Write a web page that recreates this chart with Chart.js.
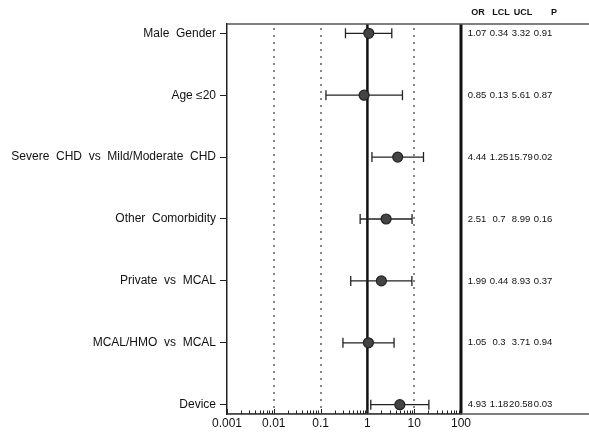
<!DOCTYPE html>
<html>
<head>
<meta charset="utf-8">
<script src="https://cdn.jsdelivr.net/npm/chart.js@4/dist/chart.umd.min.js"></script>
<style>
  body { margin: 0; background: #fff; }
  #wrap { width: 589px; height: 439px; position: relative; }
</style>
</head>
<body>
<div id="wrap"><canvas id="forest"></canvas></div>
<script>
const labels = ['Male  Gender', 'Age \u226420', 'Severe  CHD  vs  Mild/Moderate  CHD', 'Other  Comorbidity', 'Private  vs  MCAL', 'MCAL/HMO  vs  MCAL', 'Device'];
const orValues = [1.07, 0.85, 4.44, 2.51, 1.99, 1.05, 4.93];
const lclValues = [0.34, 0.13, 1.25, 0.7, 0.44, 0.3, 1.18];
const uclValues = [3.32, 5.61, 15.79, 8.99, 8.93, 3.71, 20.58];
const pValues = ['0.91', '0.87', '0.02', '0.16', '0.37', '0.94', '0.03'];
const orText = ['1.07', '0.85', '4.44', '2.51', '1.99', '1.05', '4.93'];
const lclText = ['0.34', '0.13', '1.25', '0.7', '0.44', '0.3', '1.18'];
const uclText = ['3.32', '5.61', '15.79', '8.99', '8.93', '3.71', '20.58'];
const xTicks = [0.001, 0.01, 0.1, 1, 10, 100];
const tableHeader = ['OR', 'LCL', 'UCL', 'P'];

const textColor = '#111';
const fontFamily = '"Liberation Sans", Arial, sans-serif';

const forestPlugin = {
    id: 'forest',
    beforeDatasetsDraw(chart) {
        const ctx = chart.ctx;
        const x = chart.scales.x;
        const y = chart.scales.y;
        const area = chart.chartArea;
        ctx.save();
        // dotted reference lines
        ctx.strokeStyle = '#888';
        ctx.lineWidth = 2;
        ctx.setLineDash([2, 5]);
        [0.01, 0.1, 10].forEach(v => {
            const px = Math.round(x.getPixelForValue(v));
            ctx.beginPath();
            ctx.moveTo(px, area.top + 4);
            ctx.lineTo(px, area.bottom);
            ctx.stroke();
        });
        ctx.setLineDash([]);
        // solid line at 1
        ctx.strokeStyle = '#111';
        ctx.lineWidth = 2.5;
        let px = x.getPixelForValue(1);
        ctx.beginPath();
        ctx.moveTo(px, area.top);
        ctx.lineTo(px, area.bottom);
        ctx.stroke();
        // thick right border at 100
        ctx.lineWidth = 3;
        px = x.getPixelForValue(100);
        ctx.beginPath();
        ctx.moveTo(px, area.top);
        ctx.lineTo(px, area.bottom);
        ctx.stroke();
        // top and bottom rules across the table
        ctx.strokeStyle = '#555';
        ctx.lineWidth = 1.5;
        ctx.beginPath();
        ctx.moveTo(area.left, area.top);
        ctx.lineTo(chart.width, area.top);
        ctx.moveTo(area.left, area.bottom);
        ctx.lineTo(chart.width, area.bottom);
        ctx.stroke();
        // ticks on x axis, pointing up into the plot
        ctx.strokeStyle = '#222';
        ctx.lineWidth = 1;
        for (let d = 0.001; d < 100; d *= 10) {
            for (let k = 1; k <= 9; k++) {
                const mx = Math.round(x.getPixelForValue(d * k)) + 0.5;
                ctx.beginPath();
                ctx.moveTo(mx, area.bottom);
                ctx.lineTo(mx, area.bottom - (k === 1 ? 5 : 3.5));
                ctx.stroke();
            }
        }
        // error bars
        ctx.strokeStyle = '#222';
        ctx.lineWidth = 1.3;
        orValues.forEach((v, i) => {
            const py = y.getPixelForValue(i);
            const x1 = x.getPixelForValue(lclValues[i]);
            const x2 = x.getPixelForValue(uclValues[i]);
            ctx.beginPath();
            ctx.moveTo(x1, py);
            ctx.lineTo(x2, py);
            ctx.moveTo(x1, py - 5);
            ctx.lineTo(x1, py + 5);
            ctx.moveTo(x2, py - 5);
            ctx.lineTo(x2, py + 5);
            ctx.stroke();
        });
        ctx.restore();
    },
    afterDraw(chart) {
        const ctx = chart.ctx;
        const y = chart.scales.y;
        const area = chart.chartArea;
        const cols = [477, 499, 521, 543];
        ctx.save();
        ctx.fillStyle = textColor;
        ctx.textAlign = 'center';
        ctx.textBaseline = 'middle';
        ctx.font = 'bold 9px ' + fontFamily;
        const hdrCols = [478, 501, 523, 554];
        tableHeader.forEach((h, j) => ctx.fillText(h, hdrCols[j], area.top - 11));
        ctx.font = '9.5px ' + fontFamily;
        orValues.forEach((v, i) => {
            const py = y.getPixelForValue(i);
            ctx.fillText(orText[i], cols[0], py);
            ctx.fillText(lclText[i], cols[1], py);
            ctx.fillText(uclText[i], cols[2], py);
            ctx.fillText(pValues[i], cols[3], py);
        });
        ctx.restore();
    }
};

new Chart(document.getElementById('forest'), {
    type: 'scatter',
    data: {
        datasets: [{
            data: orValues.map((v, i) => ({ x: v, y: i })),
            pointStyle: 'circle',
            pointRadius: 5,
            pointBackgroundColor: '#444',
            pointBorderColor: '#222',
            pointBorderWidth: 1.2
        }]
    },
    options: {
        responsive: true,
        maintainAspectRatio: false,
        animation: false,
        layout: { padding: { top: 24, right: 128, bottom: 0, left: 0 } },
        plugins: {
            legend: { display: false },
            tooltip: { enabled: false }
        },
        scales: {
            x: {
                type: 'logarithmic',
                min: 0.001,
                max: 100,
                afterBuildTicks: scale => { scale.ticks = xTicks.map(v => ({ value: v })); },
                afterFit: scale => { scale.height = 25; },
                ticks: {
                    color: textColor,
                    font: { family: fontFamily, size: 12 },
                    padding: 1,
                    maxRotation: 0,
                    autoSkip: false,
                    callback: v => String(v)
                },
                grid: { drawOnChartArea: false, drawTicks: true, tickLength: 1, color: '#222' },
                border: { color: '#222', width: 1.5 }
            },
            y: {
                type: 'linear',
                reverse: true,
                min: -0.15,
                max: 6.15,
                afterBuildTicks: scale => { scale.ticks = labels.map((l, i) => ({ value: i })); },
                afterFit: scale => { scale.width = 227; },
                ticks: {
                    color: textColor,
                    font: { family: fontFamily, size: 12 },
                    padding: 4,
                    autoSkip: false,
                    callback: v => labels[v]
                },
                grid: { drawOnChartArea: false, tickLength: 7, color: '#222' },
                border: { color: '#222', width: 1.5 }
            }
        }
    },
    plugins: [forestPlugin]
});
</script>
</body>
</html>
